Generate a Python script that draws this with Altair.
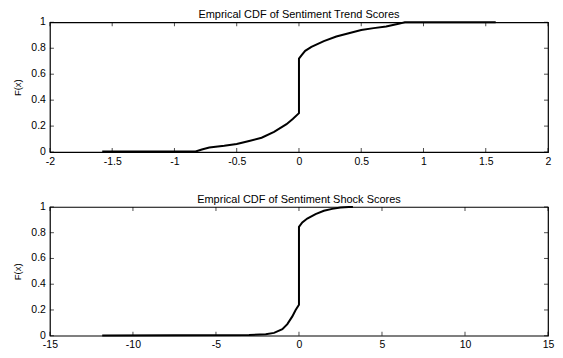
import altair as alt
import pandas as pd

# ---- data ----
trend_x = [-1.58, -0.83, -0.78, -0.72, -0.6, -0.5, -0.4, -0.3, -0.2, -0.1, -0.05, 0.0,
           0.0, 0.02, 0.05, 0.1, 0.2, 0.3, 0.4, 0.5, 0.6, 0.7, 0.8, 0.85, 1.58]
trend_F = [0.005, 0.005, 0.02, 0.035, 0.048, 0.062, 0.085, 0.11, 0.155, 0.215, 0.255, 0.30,
           0.72, 0.745, 0.78, 0.81, 0.855, 0.89, 0.915, 0.94, 0.955, 0.968, 0.988, 1.0, 1.0]

shock_x = [-11.85, -3.0, -2.0, -1.5, -1.0, -0.7, -0.4, -0.2, 0.0,
           0.0, 0.2, 0.5, 1.0, 1.5, 2.0, 2.5, 3.0, 3.25]
shock_F = [0.002, 0.005, 0.012, 0.022, 0.05, 0.09, 0.15, 0.2, 0.24,
           0.845, 0.88, 0.91, 0.945, 0.97, 0.985, 0.995, 1.0, 1.0]

trend_xticks = [-2, -1.5, -1, -0.5, 0, 0.5, 1, 1.5, 2]
shock_xticks = [-15, -10, -5, 0, 5, 10, 15]
y_ticks = [0, 0.2, 0.4, 0.6, 0.8, 1]
y_tick_labels = ["0", "0.2", "0.4", "0.6", "0.8", "1"]

titles = ["Emprical CDF of Sentiment Trend Scores", "Emprical CDF of Sentiment Shock Scores"]
y_label = "F(x)"

FONT = "Liberation Sans"
TICK = 4
LABEL_SIZE = 10.5


def panel(xs, fs, xticks, title, h):
    lo, hi = xticks[0], xticks[-1]
    xscale = alt.Scale(domain=[lo, hi], nice=False, zero=False)
    yscale = alt.Scale(domain=[0, 1], nice=False)
    xaxis = alt.Axis(values=xticks, labelExpr="toString(datum.value)", ticks=False, domain=False,
                     grid=False, labelFontSize=LABEL_SIZE, labelFont=FONT, labelColor="black",
                     labelPadding=4, title=None, labelFlush=False, labelOverlap=False)
    yaxis = alt.Axis(values=y_ticks, labels=False, ticks=False, domain=False, grid=False,
                     title=y_label, titleFont=FONT, titleFontSize=9.5,
                     titleFontWeight="normal", titleColor="black", titlePadding=27)

    df = pd.DataFrame({"x": xs, "F": fs, "i": list(range(len(xs)))})
    line = alt.Chart(df).mark_line(color="black", strokeWidth=2).encode(
        x=alt.X("x:Q", scale=xscale, axis=xaxis),
        y=alt.Y("F:Q", scale=yscale, axis=yaxis),
        order=alt.Order("i:Q"),
    )

    xt = pd.DataFrame({"v": xticks})
    yt = pd.DataFrame({"v": y_ticks, "lab": y_tick_labels})
    bot = alt.Chart(xt).mark_tick(orient="vertical", size=TICK, thickness=1, color="black",
                                  yOffset=-TICK / 2).encode(
        x=alt.X("v:Q", scale=xscale, axis=xaxis), y=alt.datum(0, scale=yscale))
    top = alt.Chart(xt).mark_tick(orient="vertical", size=TICK, thickness=1, color="black",
                                  yOffset=TICK / 2).encode(
        x=alt.X("v:Q", scale=xscale, axis=xaxis), y=alt.datum(1, scale=yscale))
    left = alt.Chart(yt).mark_tick(orient="horizontal", size=TICK, thickness=1, color="black",
                                   xOffset=TICK / 2).encode(
        y=alt.Y("v:Q", scale=yscale, axis=yaxis), x=alt.datum(lo, scale=xscale))
    right = alt.Chart(yt).mark_tick(orient="horizontal", size=TICK, thickness=1, color="black",
                                    xOffset=-TICK / 2).encode(
        y=alt.Y("v:Q", scale=yscale, axis=yaxis), x=alt.datum(hi, scale=xscale))
    ylabels = alt.Chart(yt).mark_text(align="right", baseline="middle", dx=-4,
                                      fontSize=LABEL_SIZE, font=FONT, color="black").encode(
        y=alt.Y("v:Q", scale=yscale, axis=yaxis), x=alt.datum(lo, scale=xscale),
        text="lab:N")

    return alt.layer(line, bot, top, left, right, ylabels).properties(
        width=499, height=h,
        title=alt.TitleParams(title, font=FONT, fontSize=11, fontWeight="normal",
                              color="black", offset=-3, anchor="middle"),
    )


chart = alt.vconcat(
    panel(trend_x, trend_F, trend_xticks, titles[0], 130),
    panel(shock_x, shock_F, shock_xticks, titles[1], 129),
    spacing=25,
).properties(
    padding={"left": 4, "top": 0, "right": 0, "bottom": 0},
    background="white",
).configure_view(stroke="black", strokeWidth=1.2)

chart.save("out.html", embed_options={"renderer": "svg", "actions": False})
